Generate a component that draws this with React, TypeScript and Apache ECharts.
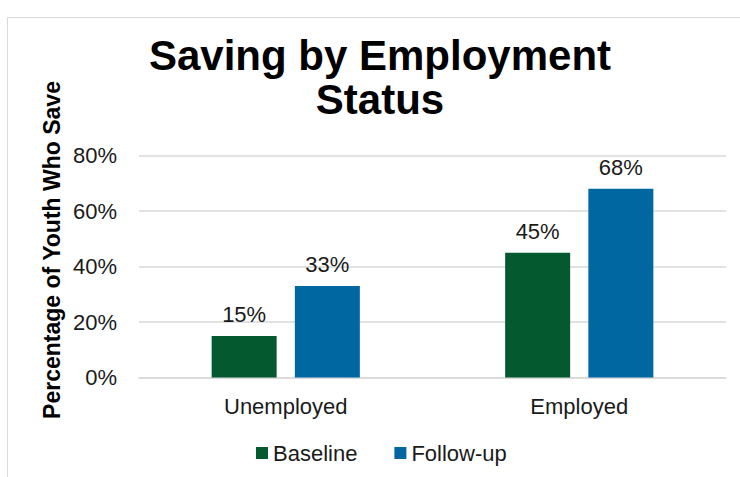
import React, { useEffect, useRef } from "react";
import * as echarts from "echarts";

const categories = ["Unemployed", "Employed"];
const baselineValues = [15, 45];
const followUpValues = [33, 68];
const seriesNames = ["Baseline", "Follow-up"];
const yMin = 0;
const yMax = 80;
const yInterval = 20;
const titleText = "Saving by Employment\nStatus";
const yAxisTitle = "Percentage of Youth Who Save";

const GREEN = "#045a2e";
const BLUE = "#0067a1";
const TEXT = "#1a1a1a";
const GRID = "#d9d9d9";
const FONT = '"Liberation Sans", Arial, Helvetica, sans-serif';

export default function App() {
  const ref = useRef<HTMLDivElement>(null);
  useEffect(() => {
    if (!ref.current) return;
    const chart = echarts.init(ref.current, undefined, { renderer: "svg" });
    chart.setOption({
      animation: false,
      backgroundColor: "#ffffff",
      textStyle: { fontFamily: FONT },
      title: {
        text: titleText,
        left: 380,
        top: 33,
        textAlign: "center",
        padding: 0,
        textStyle: {
          fontFamily: FONT,
          fontSize: 42,
          fontWeight: "bold",
          color: "#000000",
          lineHeight: 44,
        },
      },
      graphic: [
        {
          type: "rect",
          silent: true,
          shape: { x: 7.5, y: 17.5, width: 800, height: 520 },
          style: { fill: "none", stroke: GRID, lineWidth: 1 },
        },
        {
          type: "text",
          x: 52,
          y: 250,
          rotation: Math.PI / 2,
          style: {
            text: yAxisTitle,
            fontFamily: FONT,
            fontSize: 23,
            fontWeight: "bold",
            fill: "#000000",
            align: "center",
            verticalAlign: "middle",
          },
        },
      ],
      legend: {
        left: 256,
        top: 442,
        itemWidth: 12,
        itemHeight: 12,
        itemGap: 37,
        icon: "rect",
        padding: 0,
        textStyle: { fontFamily: FONT, fontSize: 22, color: TEXT },
        data: seriesNames,
      },
      grid: { left: 139, right: 14, top: 155.5, bottom: 99.5, containLabel: false },
      xAxis: {
        type: "category",
        data: categories,
        axisLine: { show: true, lineStyle: { color: GRID, width: 1.5 } },
        axisTick: { show: false },
        axisLabel: { fontFamily: FONT, fontSize: 22, color: TEXT, margin: 18 },
      },
      yAxis: {
        type: "value",
        min: yMin,
        max: yMax,
        interval: yInterval,
        axisLine: { show: false },
        axisTick: { show: false },
        axisLabel: {
          formatter: "{value}%",
          fontFamily: FONT,
          fontSize: 22,
          color: TEXT,
          margin: 22,
        },
        splitLine: { lineStyle: { color: GRID, width: 1.5 } },
      },
      series: [
        {
          name: seriesNames[0],
          type: "bar",
          data: baselineValues,
          barWidth: 65,
          barGap: "28%",
          itemStyle: { color: GREEN },
          label: {
            show: true,
            position: "top",
            distance: 10,
            formatter: "{c}%",
            fontFamily: FONT,
            fontSize: 22,
            color: TEXT,
          },
        },
        {
          name: seriesNames[1],
          type: "bar",
          data: followUpValues,
          barWidth: 65,
          barGap: "28%",
          itemStyle: { color: BLUE },
          label: {
            show: true,
            position: "top",
            distance: 10,
            formatter: "{c}%",
            fontFamily: FONT,
            fontSize: 22,
            color: TEXT,
          },
        },
      ],
    });
    return () => chart.dispose();
  }, []);
  return (
    <div
      ref={ref}
      style={{ position: "fixed", left: 0, top: 0, width: 740, height: 477, background: "#fff" }}
    />
  );
}
